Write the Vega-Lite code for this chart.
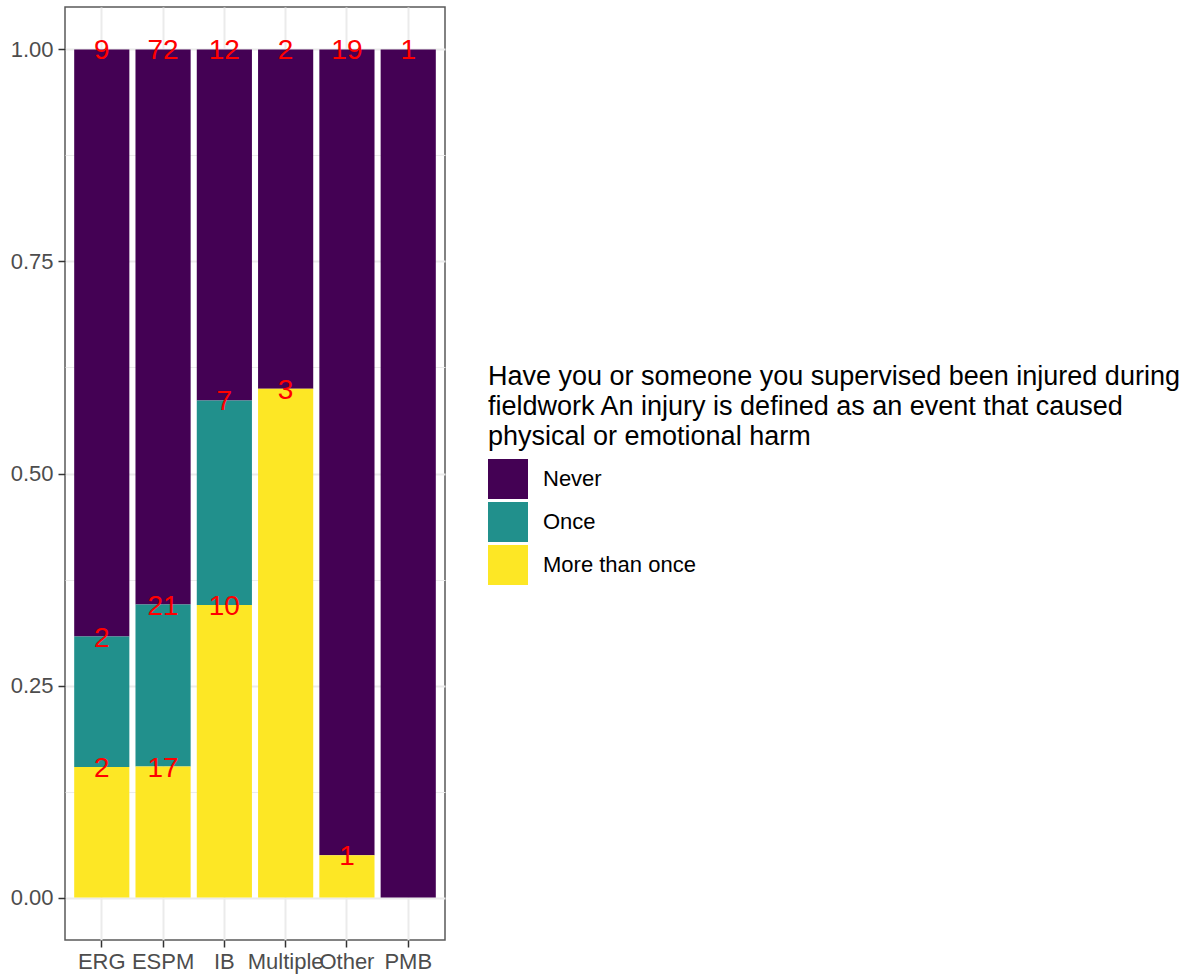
{
  "$schema": "https://vega.github.io/schema/vega-lite/v6.json",
  "autosize": "none",
  "padding": {"left": 65, "top": 7, "right": 751, "bottom": 36},
  "width": 380,
  "height": 933,
  "background": "white",
  "config": {
    "font": "Liberation Sans",
    "view": {"stroke": "#5a5a5a", "strokeWidth": 1.5}
  },
  "data": {
    "values": [
      {"dept": "ERG", "response": "Never", "count": 9, "ord": 2},
      {"dept": "ERG", "response": "Once", "count": 2, "ord": 1},
      {"dept": "ERG", "response": "More than once", "count": 2, "ord": 0},
      {"dept": "ESPM", "response": "Never", "count": 72, "ord": 2},
      {"dept": "ESPM", "response": "Once", "count": 21, "ord": 1},
      {"dept": "ESPM", "response": "More than once", "count": 17, "ord": 0},
      {"dept": "IB", "response": "Never", "count": 12, "ord": 2},
      {"dept": "IB", "response": "Once", "count": 7, "ord": 1},
      {"dept": "IB", "response": "More than once", "count": 10, "ord": 0},
      {"dept": "Multiple", "response": "Never", "count": 2, "ord": 2},
      {"dept": "Multiple", "response": "More than once", "count": 3, "ord": 0},
      {"dept": "Other", "response": "Never", "count": 19, "ord": 2},
      {"dept": "Other", "response": "More than once", "count": 1, "ord": 0},
      {"dept": "PMB", "response": "Never", "count": 1, "ord": 2}
    ]
  },
  "transform": [
    {"stack": "count", "groupby": ["dept"], "sort": [{"field": "ord", "order": "ascending"}], "offset": "normalize", "as": ["y0", "y1"]}
  ],
  "layer": [
    {
      "mark": {"type": "bar"},
      "encoding": {
        "x": {
          "field": "dept", "type": "nominal",
          "sort": ["ERG", "ESPM", "IB", "Multiple", "Other", "PMB"],
          "scale": {"paddingInner": 0.1, "paddingOuter": 0.15},
          "axis": {
            "title": null, "labelAngle": 0, "labelOverlap": false, "labelBound": false,
            "labelFontSize": 22, "labelColor": "#4D4D4D", "labelPadding": 4,
            "tickColor": "#333333", "tickSize": 7, "tickWidth": 1.5, "bandPosition": 0.5,
            "domain": false, "grid": true, "gridColor": "#EBEBEB", "gridWidth": 2
          }
        },
        "y": {
          "field": "y1", "type": "quantitative",
          "scale": {"domain": [-0.05, 1.05], "nice": false, "zero": false},
          "axis": {
            "title": null, "values": [0, 0.25, 0.5, 0.75, 1], "format": ".2f",
            "labelFontSize": 22, "labelColor": "#4D4D4D", "labelPadding": 5,
            "tickColor": "#333333", "tickSize": 7, "tickWidth": 1.5,
            "domain": false, "grid": true, "gridColor": "#EBEBEB", "gridWidth": 2
          }
        },
        "y2": {"field": "y0"},
        "color": {
          "field": "response", "type": "nominal",
          "scale": {"domain": ["Never", "Once", "More than once"], "range": ["#440154", "#21908C", "#FDE725"]},
          "legend": {
            "orient": "none", "legendX": 423, "legendY": 357, "padding": 0,
            "title": ["Have you or someone you supervised been injured during", "fieldwork An injury is defined as an event that caused", "physical or emotional harm"],
            "titleFontSize": 27, "titleFontWeight": "normal", "titleColor": "black", "titleLimit": 0,
            "titleLineHeight": 30, "titlePadding": 8,
            "symbolType": "square", "symbolSize": 1600, "symbolStrokeWidth": 0, "symbolOpacity": 1,
            "labelFontSize": 22, "labelColor": "black", "labelOffset": 15, "rowPadding": 3, "labelLimit": 0
          }
        }
      }
    },
    {
      "mark": {"type": "text", "color": "red", "fontSize": 28, "baseline": "middle", "dy": 2},
      "encoding": {
        "x": {"field": "dept", "type": "nominal", "sort": ["ERG", "ESPM", "IB", "Multiple", "Other", "PMB"]},
        "y": {
          "field": "y1", "type": "quantitative",
          "axis": {
            "title": null, "orient": "left", "values": [0.125, 0.375, 0.625, 0.875],
            "labels": false, "ticks": false, "domain": false,
            "grid": true, "gridColor": "#EBEBEB", "gridWidth": 1
          }
        },
        "text": {"field": "count", "type": "quantitative"}
      }
    }
  ],
  "resolve": {"axis": {"y": "independent"}}
}
